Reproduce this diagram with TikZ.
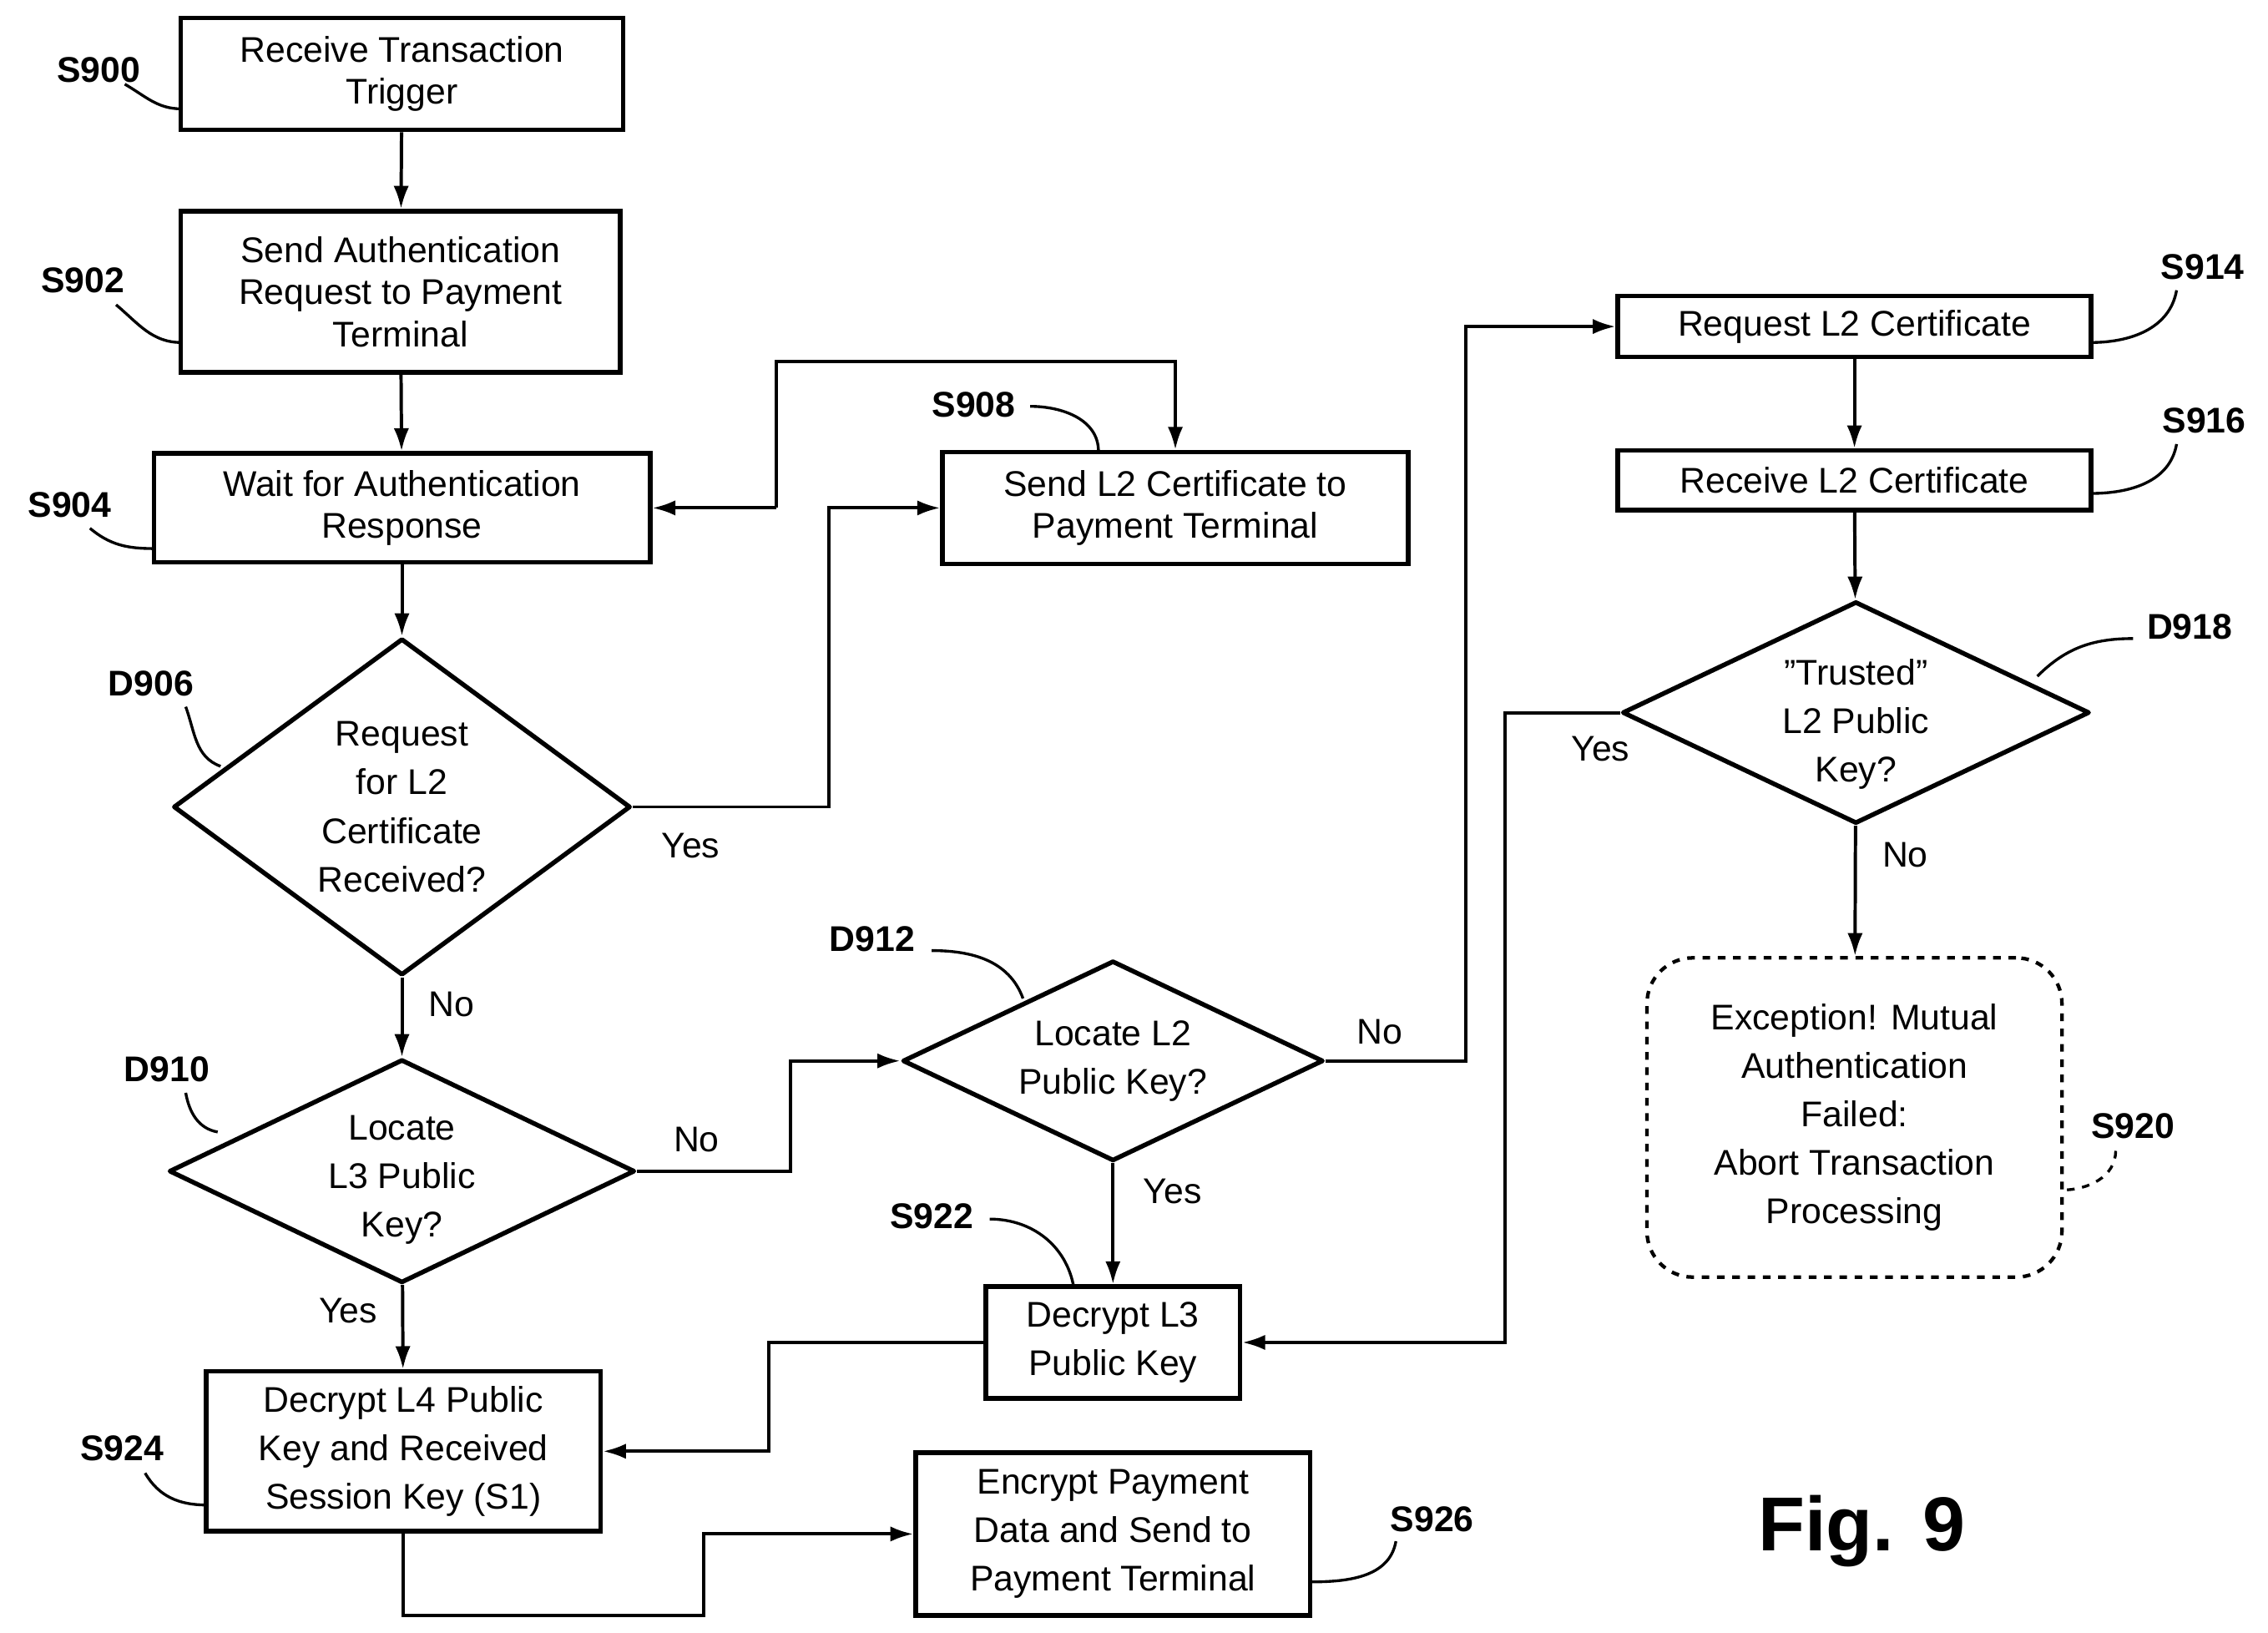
\documentclass[tikz,border=0pt]{standalone}
\usepackage{fontspec}
\setmainfont{Liberation Sans}
\usetikzlibrary{shapes.geometric,arrows.meta}
\begin{document}
\begin{tikzpicture}[x=0.02cm,y=-0.02cm,
 box/.style={draw,line width=1.8pt,inner sep=0pt,align=center,font=\fontsize{14}{16.5}\selectfont},
 dia/.style={draw,diamond,line width=1.8pt,inner sep=0pt,line join=round},
 dtxt/.style={align=center,inner sep=0pt,font=\fontsize{14}{19}\selectfont},
 lab/.style={font=\fontsize{14}{16}\selectfont\bfseries,inner sep=0pt},
 yn/.style={font=\fontsize{14}{16}\selectfont,inner sep=0pt},
 ar/.style={line width=1.3pt,-{Latex[length=9pt,width=6pt]}},
 ln/.style={line width=1.3pt},
 lead/.style={line width=1.1pt}]
\useasboundingbox (0,0) rectangle (1563,1125);
\node[box,minimum width=305*0.02cm,minimum height=77*0.02cm] (s900) at (277,51) {Receive Transaction\\Trigger};
\node[box,minimum width=303*0.02cm,minimum height=111*0.02cm] (s902) at (276,201) {Send Authentication\\Request to Payment\\Terminal};
\node[box,minimum width=342*0.02cm,minimum height=75*0.02cm] (s904) at (277,350) {Wait for Authentication\\Response};
\node[dia,minimum width=315*0.02cm,minimum height=232*0.02cm] (d906) at (277,556) {};
\node[dtxt] (t906) at (277,556) {Request\\for L2\\Certificate\\Received?};
\node[box,minimum width=321*0.02cm,minimum height=77*0.02cm] (s908) at (810,350) {Send L2 Certificate to\\Payment Terminal};
\node[dia,minimum width=321*0.02cm,minimum height=154*0.02cm] (d910) at (277,807) {};
\node[dtxt] (t910) at (277,813) {Locate\\L3 Public\\Key?};
\node[dia,minimum width=290*0.02cm,minimum height=138*0.02cm] (d912) at (767,731) {};
\node[dtxt] (t912) at (767,731) {Locate L2\\Public Key?};
\node[box,minimum width=326*0.02cm,minimum height=42*0.02cm] (s914) at (1278,225) {Request L2 Certificate};
\node[box,minimum width=326*0.02cm,minimum height=41*0.02cm] (s916) at (1278,331) {Receive L2 Certificate};
\node[dia,minimum width=322*0.02cm,minimum height=153*0.02cm] (d918) at (1279,491) {};
\node[dtxt] (t918) at (1279,499) {"Trusted"\\L2 Public\\Key?};
\node[draw,dashed,rounded corners=18pt,line width=1.4pt,minimum width=286*0.02cm,minimum height=220*0.02cm,align=center,inner sep=0pt,font=\fontsize{14}{19}\selectfont] (s920) at (1278,770) {Exception! Mutual\\Authentication\\Failed:\\Abort Transaction\\Processing};
\node[box,minimum width=175*0.02cm,minimum height=77*0.02cm,font=\fontsize{14}{19}\selectfont] (s922) at (767,925) {Decrypt L3\\Public Key};
\node[box,minimum width=272*0.02cm,minimum height=110*0.02cm,font=\fontsize{14}{19}\selectfont] (s924) at (278,1000) {Decrypt L4 Public\\Key and Received\\Session Key (S1)};
\node[box,minimum width=272*0.02cm,minimum height=112*0.02cm,font=\fontsize{14}{19}\selectfont] (s926) at (767,1057) {Encrypt Payment\\Data and Send to\\Payment Terminal};
\node[font=\fontsize{30}{32}\selectfont\bfseries,inner sep=0pt] (fig) at (1283,1055) {Fig. 9};
% edges
\draw[ar] (s900) -- (s902);
\draw[ar] (s902) -- (s904);
\draw[ar] (s904) -- (d906);
\draw[ar] (d906.east) -- (571,556) |- (s908.west);
\draw[ar] (535,350) |- (810,249) -- (s908.north);
\draw[ar] (535,350) -- (s904.east);
\draw[ar] (d906) -- (d910);
\draw[ar] (d910.east) -- (545,807) |- (d912.west);
\draw[ar] (d910) -- (s924);
\draw[ar] (d912.east) -- (1010,731) |- (s914.west);
\draw[ar] (d912) -- (s922);
\draw[ar] (s914) -- (s916);
\draw[ar] (s916) -- (d918);
\draw[ar] (d918.west) -- (1037,491) |- (s922.east);
\draw[ar] (d918) -- (s920);
\draw[ar] (s922.west) -- (530,925) |- (s924.east);
\draw[ar] (s924.south) -- (278,1113) -| (485,1057) -- (s926.west);
% yes/no
\node[yn] (y1) at (476,583) {Yes};
\node[yn] (n1) at (311,692) {No};
\node[yn] (n2) at (480,785) {No};
\node[yn] (y2) at (240,903) {Yes};
\node[yn] (n3) at (951,711) {No};
\node[yn] (y3) at (808,821) {Yes};
\node[yn] (y4) at (1103,516) {Yes};
\node[yn] (n4) at (1313,589) {No};
% step labels
\node[lab] (l900) at (68,48) {S900};
\draw[lead] (86,58) to[out=-30,in=180] (125,75);
\node[lab] (l902) at (57,193) {S902};
\draw[lead] (80,210) to[out=-40,in=180] (125,236);
\node[lab] (l904) at (48,348) {S904};
\draw[lead] (62,364) to[out=-40,in=180] (106,378);
\node[lab] (l906) at (104,471) {D906};
\draw[lead] (128,487) to[out=-70,in=160] (152,528);
\node[lab] (l908) at (671,279) {S908};
\draw[lead] (710,280) to[out=0,in=90] (757,311);
\node[lab] (l910) at (115,737) {D910};
\draw[lead] (128,753) to[out=-80,in=170] (150,780);
\node[lab] (l912) at (601,647) {D912};
\draw[lead] (642,655) to[out=0,in=110] (705,688);
\node[lab] (l914) at (1518,184) {S914};
\draw[lead] (1500,200) to[out=-100,in=0] (1441,236);
\node[lab] (l916) at (1519,290) {S916};
\draw[lead] (1500,306) to[out=-100,in=0] (1441,340);
\node[lab] (l918) at (1509,432) {D918};
\draw[lead] (1470,440) to[out=180,in=45] (1404,466);
\node[lab] (l920) at (1470,776) {S920};
\draw[lead,dashed] (1458,793) to[out=-90,in=0] (1421,820);
\node[lab] (l922) at (642,838) {S922};
\draw[lead] (682,840) to[out=0,in=100] (740,887);
\node[lab] (l924) at (84,998) {S924};
\draw[lead] (100,1015) to[out=-60,in=180] (142,1037);
\node[lab] (l926) at (987,1047) {S926};
\draw[lead] (962,1062) to[out=-100,in=0] (903,1090);
\end{tikzpicture}
\end{document}
